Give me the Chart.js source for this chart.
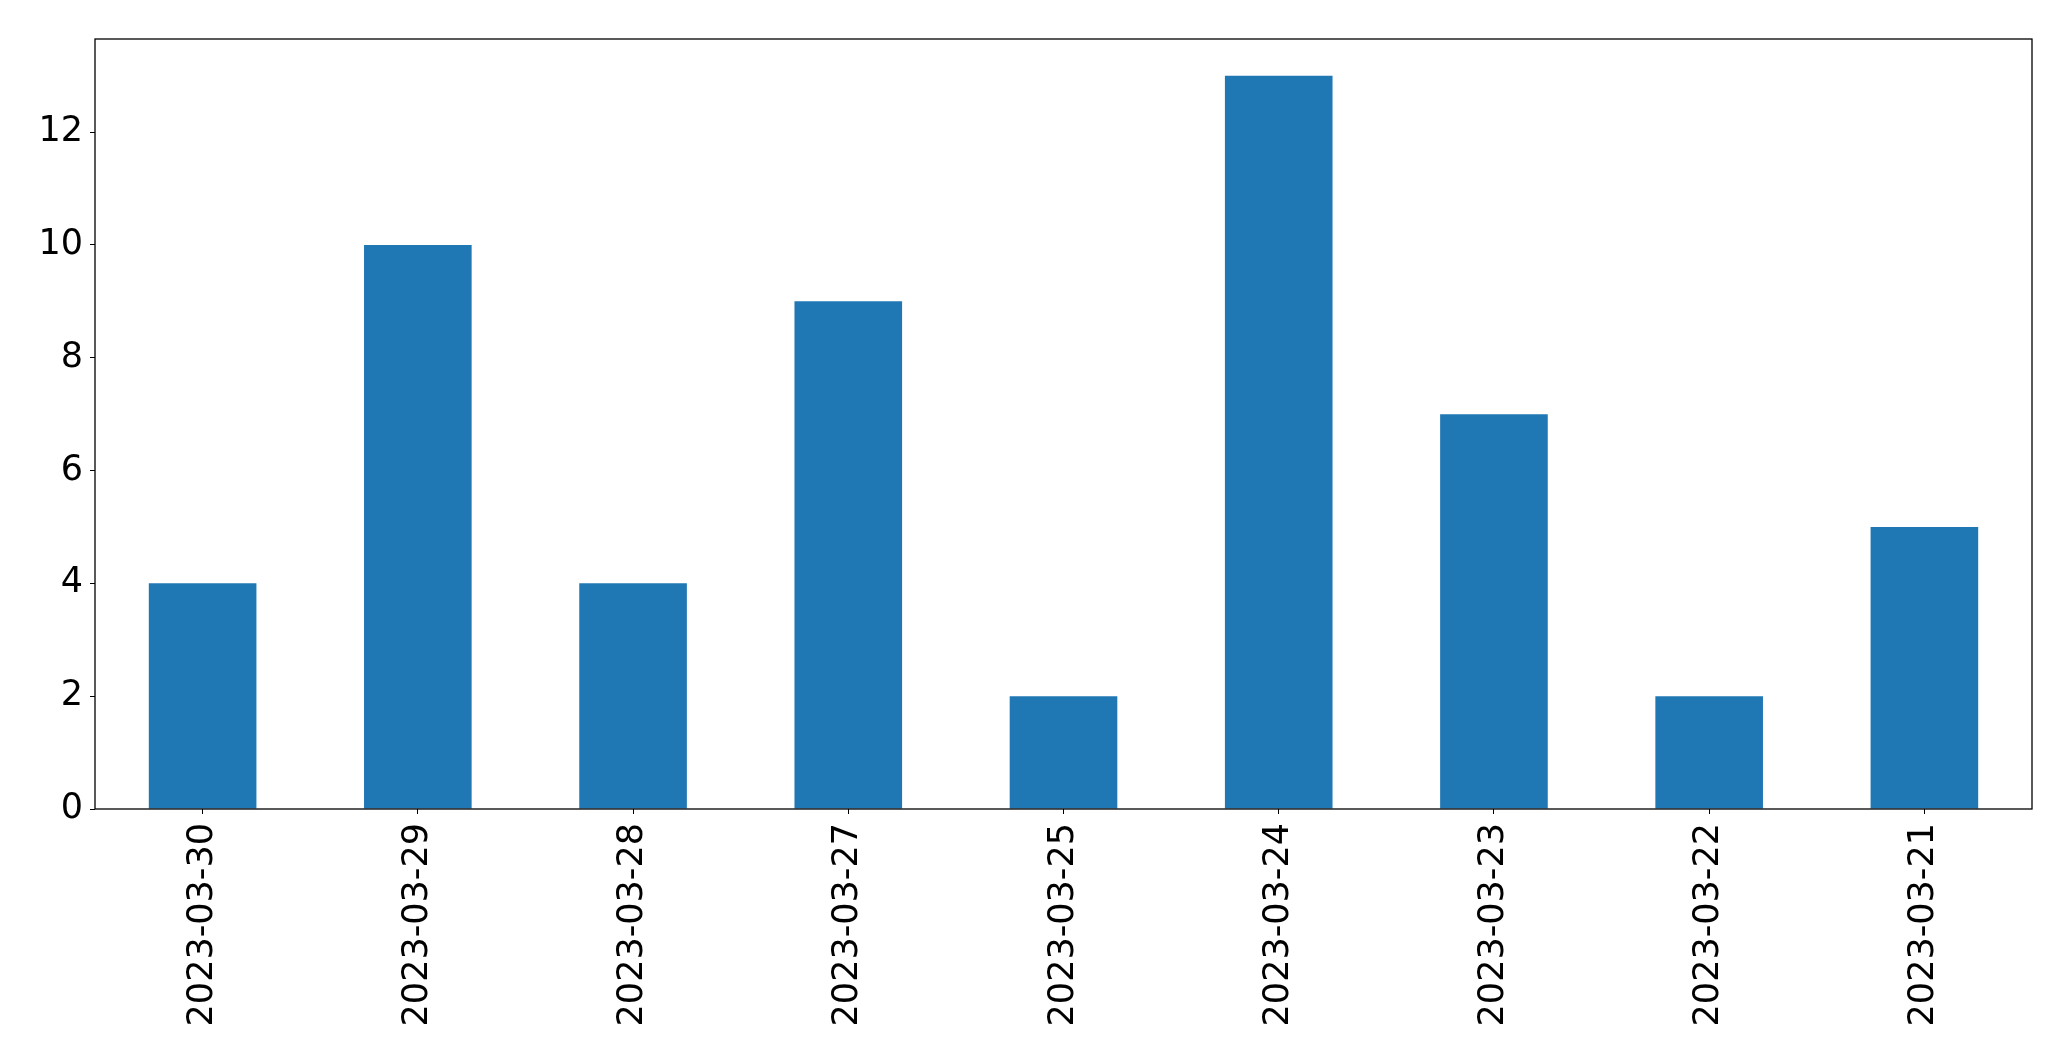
<!DOCTYPE html>
<html>
<head>
<meta charset="utf-8">
<script src="https://cdn.jsdelivr.net/npm/chart.js@4/dist/chart.umd.min.js"></script>
<style>
  html, body { margin: 0; padding: 0; background: #fff; }
  #wrap { width: 2071px; height: 1061px; }
</style>
</head>
<body>
<div id="wrap"><canvas id="chart"></canvas></div>
<script>
// chart data
var dates = ['2023-03-30', '2023-03-29', '2023-03-28', '2023-03-27', '2023-03-25',
             '2023-03-24', '2023-03-23', '2023-03-22', '2023-03-21'];
var counts = [4, 10, 4, 9, 2, 13, 7, 2, 5];
var yTicks = [0, 2, 4, 6, 8, 10, 12];

Chart.defaults.font.family = 'DejaVu Sans';
Chart.defaults.color = '#000';

// black frame round the plot area
var frame = {
    id: 'frame',
    afterDraw: function (chart) {
        var a = chart.chartArea, c = chart.ctx;
        c.save();
        c.strokeStyle = '#000';
        c.lineWidth = 1.3;
        c.strokeRect(a.left, a.top, a.right - a.left, a.bottom - a.top);
        c.restore();
    }
};

var ctx = document.getElementById('chart').getContext('2d');
var chart = new Chart(ctx, {
    type: 'bar',
    data: {
        labels: dates,
        datasets: [{
            data: counts,
            backgroundColor: '#1f77b4',
            borderWidth: 0,
            barPercentage: 0.5,
            categoryPercentage: 1.0
        }]
    },
    options: {
        responsive: true,
        maintainAspectRatio: false,
        animation: false,
        layout: { padding: { top: 39, right: 39, left: 0, bottom: 0 } },
        plugins: { legend: { display: false }, tooltip: { enabled: false } },
        scales: {
            x: {
                offset: true,
                grid: { offset: false, drawOnChartArea: false, drawTicks: true, tickLength: 5, color: '#000' },
                border: { display: false },
                ticks: { font: { size: 35 }, maxRotation: 90, minRotation: 90, padding: 9, autoSkip: false },
                afterFit: function (s) { s.height = 1061 - 809; }
            },
            y: {
                min: 0,
                max: 13.65,
                grid: { drawOnChartArea: false, drawTicks: true, tickLength: 5, color: '#000' },
                border: { display: false },
                ticks: { font: { size: 35 }, padding: 7 },
                afterBuildTicks: function (s) { s.ticks = yTicks.map(function (v) { return { value: v }; }); },
                afterFit: function (s) { s.width = 95; }
            }
        }
    },
    plugins: [frame]
});
</script>
</body>
</html>
